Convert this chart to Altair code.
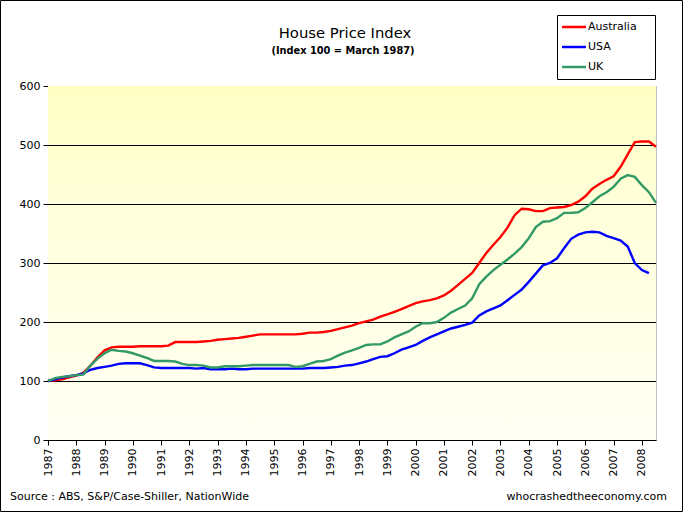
import altair as alt
import pandas as pd

# Quarterly house price indices, March 1987 = 100
australia = [
    100, 101, 103, 106, 109, 114, 126, 140, 152, 157, 158, 158,
    158, 159, 159, 159, 159, 160, 166, 166, 166, 166, 167, 168,
    170, 171, 172, 173, 175, 177, 179, 179, 179, 179, 179, 179,
    180, 182, 182, 183, 185, 188, 191, 194, 198, 201, 204, 209,
    213, 217, 222, 227, 232, 235, 237, 240, 245, 253, 263, 273,
    283, 300, 317, 331, 344, 360, 381, 392, 391, 388, 388, 393,
    394, 395, 398, 404, 413, 426, 434, 441, 447, 463, 484, 505,
    506, 506, 497,
]
usa = [
    100, 103, 106, 108, 110, 113, 119, 122, 124, 126, 129, 130,
    130, 130, 127, 123, 122, 122, 122, 122, 122, 121, 122, 120,
    120, 120, 121, 120, 120, 121, 121, 121, 121, 121, 121, 121,
    121, 122, 122, 122, 123, 124, 126, 127, 130, 133, 137, 141,
    142, 147, 153, 157, 161, 168, 174, 179, 184, 189, 192, 195,
    199, 211, 218, 223, 228, 237, 246, 255, 268, 282, 296, 300,
    308, 325, 341, 348, 352, 353, 352, 346, 342, 338, 328, 300,
    288, 283,
]
uk = [
    100, 105, 107, 108, 110, 111, 126, 138, 147, 153, 151, 150,
    147, 143, 139, 134, 134, 134, 133, 129, 127, 127, 126, 123,
    123, 125, 125, 125, 126, 127, 127, 127, 127, 127, 127, 124,
    125, 129, 133, 134, 137, 143, 148, 152, 156, 161, 162, 162,
    167, 174, 179, 184, 192, 198, 198, 200, 207, 216, 222, 228,
    240, 264, 277, 288, 297, 306, 316, 327, 342, 361, 370, 371,
    376, 385, 385, 386, 393, 403, 413, 420, 429, 443, 449, 446,
    432, 420, 402,
]
countries = ["Australia", "USA", "UK"]
colors = ["#FF0000", "#0000FF", "#339966"]
year_ticks = list(range(1987, 2009))
y_ticks = [0, 100, 200, 300, 400, 500, 600]
grid_values = [100, 200, 300, 400, 500]

FONT = "DejaVu Sans"
W, H = 608, 354
LEFT, TOP = 48, 86
TOTAL_W, TOTAL_H = 683, 512

rows = []
for name, series in zip(countries, [australia, usa, uk]):
    for i, v in enumerate(series):
        rows.append({"year": 1987 + i / 4, "value": v, "country": name})
df = pd.DataFrame(rows)

x_scale = alt.Scale(domain=[1987, 2008.5], nice=False, zero=False)
y_scale = alt.Scale(domain=[0, 600], nice=False)

x_axis = alt.Axis(
    values=year_ticks, format="d", title=None, grid=False,
    labelAngle=270, labelAlign="right", labelBaseline="middle",
    labelPadding=3, tickSize=5, tickColor="black", domainColor="black",
    labelFont=FONT, labelFontSize=11, labelColor="black",
    labelOverlap=False, labelFlush=False, labelBound=False,
)
y_axis = alt.Axis(
    values=y_ticks, title=None, grid=False, tickSize=5,
    tickColor="black", domainColor="black", labelPadding=3,
    labelFont=FONT, labelFontSize=11, labelColor="black",
    labelOverlap=False,
)

# Pale yellow backdrop fading towards white
background = alt.Chart(pd.DataFrame({"a": [0]})).mark_rect(
    fill=alt.Gradient(
        gradient="linear", x1=0, x2=0, y1=0, y2=1,
        stops=[
            alt.GradientStop(color="#FFFFC4", offset=0),
            alt.GradientStop(color="#FFFFDA", offset=0.35),
            alt.GradientStop(color="#FFFFF4", offset=1),
        ],
    )
).encode(
    x=alt.X(datum=1987, scale=x_scale, axis=x_axis),
    x2=alt.datum(2008.5),
    y=alt.Y(datum=600, scale=y_scale, axis=y_axis),
    y2=alt.datum(0),
)

grid = alt.Chart(pd.DataFrame({"g": grid_values})).mark_rule(
    color="black", strokeWidth=1, yOffset=0.5
).encode(y=alt.Y("g:Q", scale=y_scale, axis=y_axis))

lines = alt.Chart(df).mark_line(strokeWidth=2.4, interpolate="linear").encode(
    x=alt.X("year:Q", scale=x_scale, axis=x_axis),
    y=alt.Y("value:Q", scale=y_scale, axis=y_axis),
    color=alt.Color(
        "country:N",
        scale=alt.Scale(domain=countries, range=colors),
        sort=countries,
        legend=None,
    ),
    detail="country:N",
)

def label(text, x, y, size=11, weight="normal", align="left", color="black"):
    return alt.Chart(pd.DataFrame({"t": [text]})).mark_text(
        font=FONT, fontSize=size, fontWeight=weight, align=align,
        baseline="alphabetic", color=color,
    ).encode(x=alt.value(x), y=alt.value(y), text="t:N")

title = label("House Price Index", 345 - LEFT, 38 - TOP, size=14.8, align="center")
subtitle = label("(Index 100 = March 1987)", 343 - LEFT, 54 - TOP, size=9.8,
                 weight="bold", align="center")
source = label("Source : ABS, S&P/Case-Shiller, NationWide", 10 - LEFT, 500 - TOP)
site = label("whocrashedtheeconomy.com", 667 - LEFT, 500 - TOP, align="right")

# Boxed key in the top-right corner
legend_box = alt.Chart(pd.DataFrame({"a": [0]})).mark_rect(
    fill="white", stroke="black", strokeWidth=1
).encode(
    x=alt.value(557.5 - LEFT), x2=alt.value(655.5 - LEFT),
    y=alt.value(15.5 - TOP), y2=alt.value(79.5 - TOP),
)
legend_layers = []
for name, col, ypos in zip(countries, colors, [27, 47, 67]):
    legend_layers.append(
        alt.Chart(pd.DataFrame({"a": [0]})).mark_rule(
            color=col, strokeWidth=2.5
        ).encode(
            x=alt.value(562 - LEFT), x2=alt.value(586 - LEFT),
            y=alt.value(ypos - TOP),
        )
    )
    legend_layers.append(
        alt.Chart(pd.DataFrame({"t": [name]})).mark_text(
            font=FONT, fontSize=11, align="left", baseline="middle",
            color="black",
        ).encode(x=alt.value(588 - LEFT), y=alt.value(ypos - TOP), text="t:N")
    )

frame = alt.Chart(pd.DataFrame({"a": [0]})).mark_rect(
    fill=None, stroke="black", strokeWidth=1
).encode(
    x=alt.value(-LEFT + 0.5), x2=alt.value(TOTAL_W - LEFT - 0.5),
    y=alt.value(-TOP + 0.5), y2=alt.value(TOTAL_H - TOP - 0.5),
)

chart = alt.layer(
    background, grid, lines, title, subtitle, source, site,
    legend_box, *legend_layers, frame
).properties(
    width=W, height=H,
    autosize=alt.AutoSizeParams(type="none"),
    padding={"left": LEFT, "top": TOP, "right": TOTAL_W - LEFT - W,
             "bottom": TOTAL_H - TOP - H},
    background="white",
).configure_view(
    stroke="#808080", strokeDash=[1, 1], strokeWidth=1,
)

chart.save("out.html", embed_options={"renderer": "svg", "actions": False})
